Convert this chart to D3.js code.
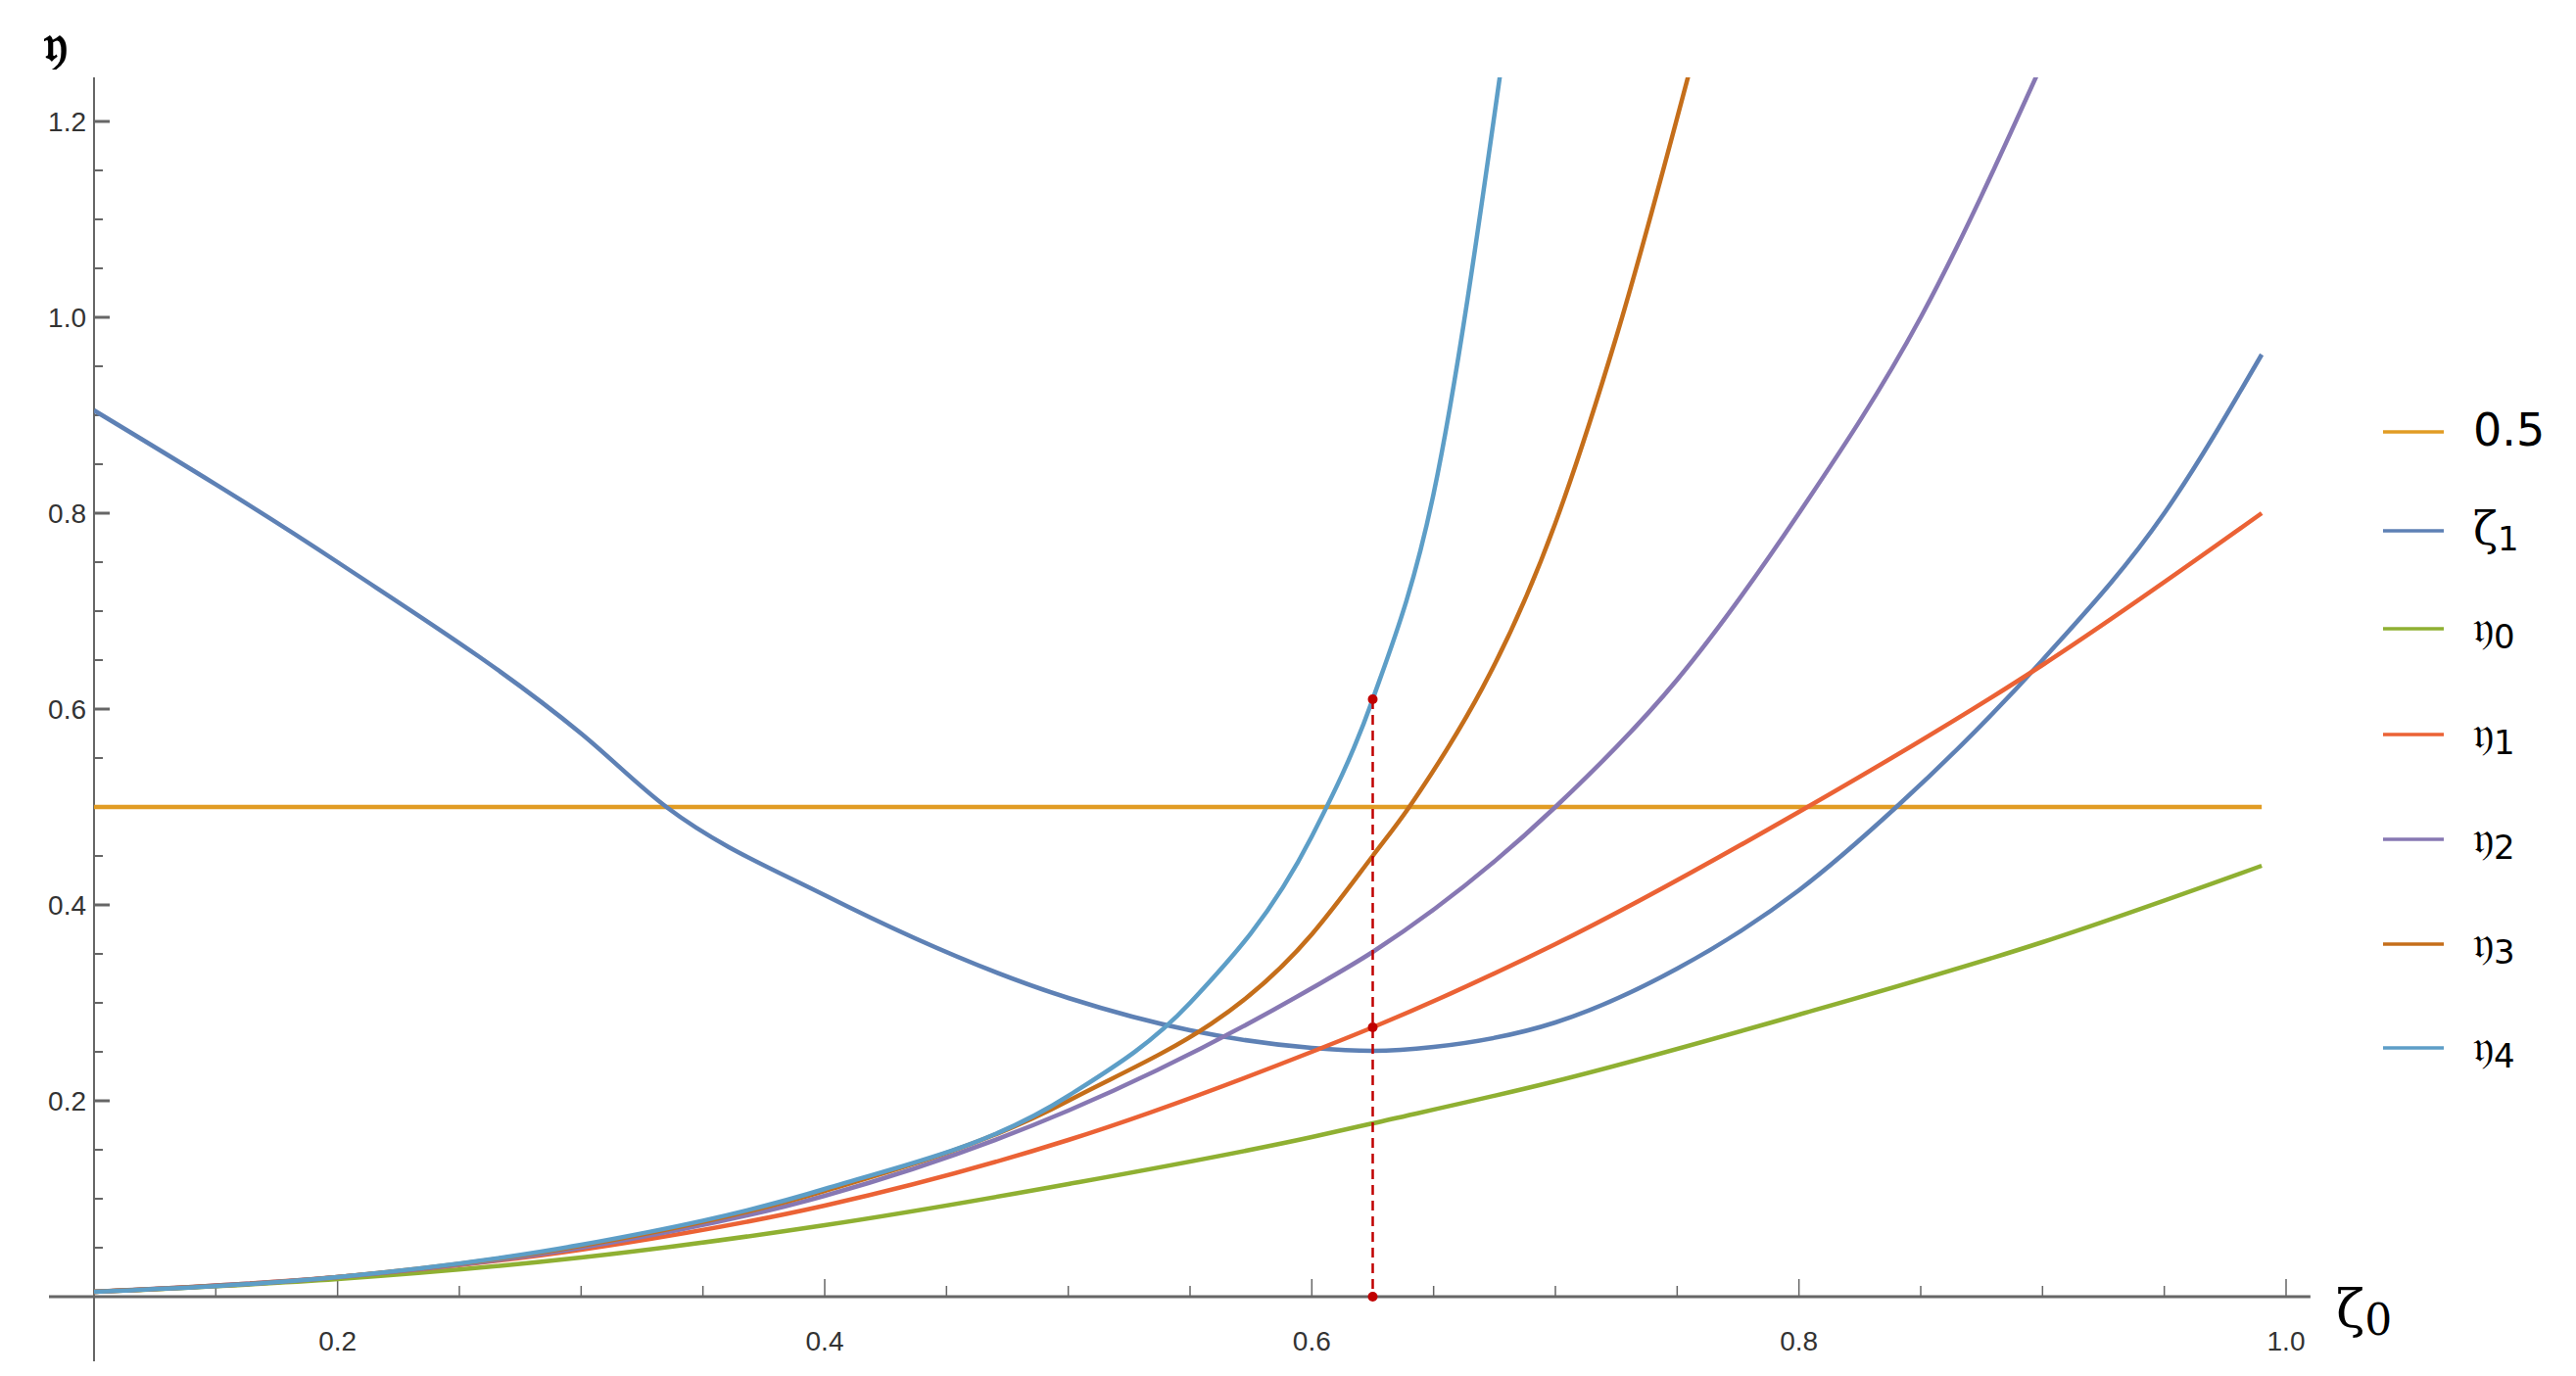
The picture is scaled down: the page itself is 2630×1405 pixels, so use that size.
<!DOCTYPE html>
<html><head><meta charset="utf-8">
<script src="https://cdn.jsdelivr.net/npm/d3@7"></script>
<style>body{margin:0;background:#fff}</style></head>
<body><svg id="c" width="2630" height="1405"></svg>
<script>
// data
const zeta1 = [[0.1,0.905],[0.2,0.75],[0.3,0.575],[0.335,0.5],[0.4,0.41],[0.5,0.305],[0.55,0.272],[0.6,0.254],[0.625,0.251],[0.65,0.255],[0.7,0.28],[0.75,0.335],[0.8,0.415],[0.84,0.5],[0.9,0.65],[0.95,0.8],[0.99,0.962]];
const eta0 = [[0.1,0.005],[0.2,0.018],[0.3,0.04],[0.4,0.073],[0.5,0.115],[0.6,0.163],[0.625,0.177],[0.7,0.22],[0.8,0.288],[0.9,0.362],[0.99,0.44]];
const eta1 = [[0.1,0.005],[0.2,0.02],[0.3,0.048],[0.4,0.093],[0.5,0.16],[0.6,0.25],[0.625,0.275],[0.7,0.36],[0.8,0.495],[0.9,0.645],[0.99,0.8]];
const eta2 = [[0.1,0.005],[0.2,0.02],[0.3,0.05],[0.4,0.103],[0.5,0.19],[0.6,0.315],[0.625,0.352],[0.7,0.5],[0.75,0.63],[0.8,0.8],[0.85,1.0],[0.9,1.26]];
const eta3 = [[0.1,0.005],[0.2,0.02],[0.3,0.052],[0.4,0.108],[0.5,0.2],[0.6,0.37],[0.625,0.45],[0.64,0.5],[0.7,0.79],[0.725,0.98],[0.756,1.26]];
const eta4 = [[0.1,0.005],[0.2,0.02],[0.3,0.053],[0.4,0.11],[0.5,0.205],[0.55,0.3],[0.6,0.47],[0.625,0.61],[0.65,0.82],[0.678,1.26]];
const half = [[0.1,0.5],[0.99,0.5]];
const marker = {x:0.625, ys:[0.61,0.275,0]};
const series = [
  {name:"0.5", sym:"", data:half, color:"#E19C24"},
  {name:"ζ", sym:"1", data:zeta1, color:"#5E81B5"},
  {name:"𝔶", sym:"0", data:eta0, color:"#8FB032"},
  {name:"𝔶", sym:"1", data:eta1, color:"#EB6235"},
  {name:"𝔶", sym:"2", data:eta2, color:"#8778B3"},
  {name:"𝔶", sym:"3", data:eta3, color:"#C56E1A"},
  {name:"𝔶", sym:"4", data:eta4, color:"#5D9EC7"}
];
const xTicks = [0.2,0.4,0.6,0.8,1.0];
const yTicks = [0.2,0.4,0.6,0.8,1.0,1.2];

const svg = d3.select("#c");
const x = d3.scaleLinear().domain([0.1,1.0]).range([96,2334]);
const y = d3.scaleLinear().domain([0,1.2]).range([1324,124]);
const yTop = y(1.245);

svg.append("clipPath").attr("id","clip").append("rect")
  .attr("x",96).attr("y",yTop).attr("width",2300).attr("height",1324-yTop+2);

// axes
const ax = svg.append("g").attr("stroke","#666").attr("fill","none");
ax.append("line").attr("x1",50).attr("x2",x(1.01)).attr("y1",y(0)).attr("y2",y(0)).attr("stroke-width",3);
ax.append("line").attr("x1",x(0.1)).attr("x2",x(0.1)).attr("y1",yTop).attr("y2",1390).attr("stroke-width",2);
d3.range(0.15,1.001,0.05).forEach(v=>{
  const maj = xTicks.some(t=>Math.abs(t-v)<1e-6);
  ax.append("line").attr("x1",x(v)).attr("x2",x(v)).attr("y1",y(0)).attr("y2",y(0)-(maj?18:11)).attr("stroke-width",1.5);
});
d3.range(0.05,1.2001,0.05).forEach(v=>{
  const maj = yTicks.some(t=>Math.abs(t-v)<1e-6);
  ax.append("line").attr("x1",x(0.1)).attr("x2",x(0.1)+(maj?16:9)).attr("y1",y(v)).attr("y2",y(v)).attr("stroke-width",maj?3:2);
});
svg.selectAll(".xl").data(xTicks).join("text")
  .attr("x",d=>x(d)).attr("y",y(0)+55).attr("text-anchor","middle")
  .attr("font-family","Liberation Sans Narrow, Liberation Sans, sans-serif").attr("font-size",28).attr("fill","#333")
  .text(d=>d.toFixed(1));
svg.selectAll(".yl").data(yTicks).join("text")
  .attr("x",x(0.1)-8).attr("y",d=>y(d)+10).attr("text-anchor","end")
  .attr("font-family","Liberation Sans, sans-serif").attr("font-size",28).attr("fill","#333")
  .text(d=>d.toFixed(1));

// axis labels
svg.append("text").attr("x",45).attr("y",62).attr("font-family","DejaVu Serif, serif")
  .attr("font-size",52).attr("font-weight","bold").text("𝔶");
const zl = svg.append("text").attr("x",2385).attr("y",1355).attr("font-family","DejaVu Serif, serif").attr("font-size",54);
zl.append("tspan").text("ζ");
zl.append("tspan").attr("font-size",44).attr("dy",8).text("0");

// curves
const line = d3.line().x(d=>x(d[0])).y(d=>y(d[1])).curve(d3.curveMonotoneX);
const g = svg.append("g").attr("clip-path","url(#clip)");
g.selectAll("path").data(series).join("path")
  .attr("d",d=>line(d.data)).attr("fill","none").attr("stroke",d=>d.color).attr("stroke-width",4.5);

// marker
svg.append("line").attr("x1",x(marker.x)).attr("x2",x(marker.x)).attr("y1",y(marker.ys[0])).attr("y2",y(0))
  .attr("stroke","#C00000").attr("stroke-width",2.5).attr("stroke-dasharray","10,6");
svg.selectAll(".dot").data(marker.ys).join("circle")
  .attr("cx",x(marker.x)).attr("cy",d=>y(d)).attr("r",5).attr("fill","#C00000");

// legend
const ly = [441,542,642,750,857,964,1070];
const lg = svg.selectAll(".lg").data(series).join("g").attr("transform",(d,i)=>`translate(0,${ly[i]})`);
lg.append("line").attr("x1",2433).attr("x2",2495).attr("stroke",d=>d.color).attr("stroke-width",3.5);
const lt = lg.append("text").attr("x",2525).attr("y",14).attr("font-family","DejaVu Serif, serif").attr("font-size",46);
lt.append("tspan").attr("font-family",d=>d.sym?"DejaVu Serif, serif":"DejaVu Sans, sans-serif").text(d=>d.name);
lt.append("tspan").attr("font-family","DejaVu Sans, sans-serif").attr("font-size",34).attr("dy",6).text(d=>d.sym);
</script></body></html>
